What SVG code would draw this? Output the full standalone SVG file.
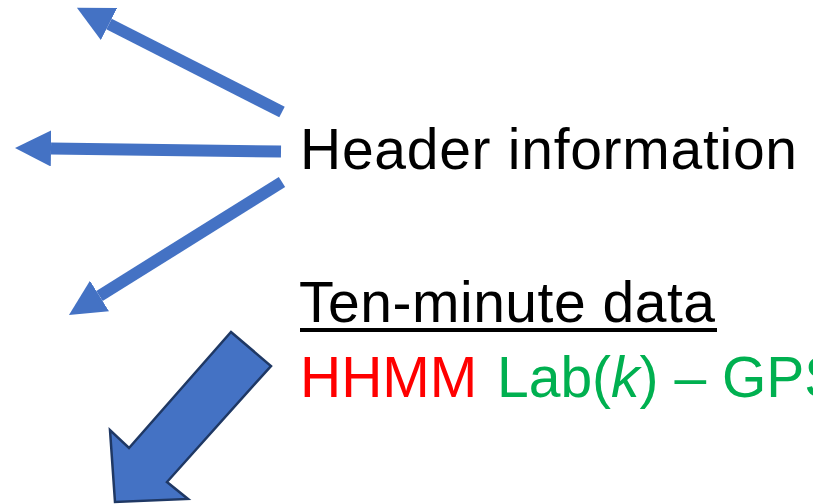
<svg xmlns="http://www.w3.org/2000/svg" width="813" height="504" viewBox="0 0 813 504">
  <style>
    .conn { stroke: #4472C4; stroke-width: 12; fill: none; }
    .lbl { font-family: "Liberation Sans", Arial, sans-serif; font-size: 57px; }
    .big { fill: #4472C4; stroke: #1F3864; stroke-width: 2.5; stroke-linejoin: miter; }
  </style>
  <defs>
    <marker id="head" markerUnits="userSpaceOnUse" markerWidth="36" markerHeight="36" refX="0" refY="18" orient="auto" viewBox="0 0 36 36">
      <path d="M0,0 L36,18 L0,36 Z" fill="#4472C4"/>
    </marker>
  </defs>
  <rect width="813" height="504" fill="#FFFFFF"/>
  <g id="connectors">
    <line class="conn" x1="282" y1="112" x2="109" y2="24" marker-end="url(#head)"/>
    <line class="conn" x1="281" y1="151.5" x2="51" y2="148.5" marker-end="url(#head)"/>
    <line class="conn" x1="282" y1="182" x2="99.5" y2="296" marker-end="url(#head)"/>
  </g>
  <g id="big-arrow">
    <polygon class="big" points="231,332 271,366 167,482 188,499 115,502 110,430 129,448"/>
  </g>
  <g id="header">
    <text class="lbl" x="300" y="169" fill="#000000" textLength="497" lengthAdjust="spacing">Header information</text>
  </g>
  <g id="ten-minute">
    <text class="lbl" x="299" y="322" fill="#000000" textLength="416" lengthAdjust="spacing">Ten-minute data</text>
    <rect x="300" y="328" width="417" height="4" fill="#000000"/>
  </g>
  <g id="record">
    <text class="lbl" x="300" y="397"><tspan fill="#FF0000">HHMM</tspan><tspan fill="#00B050" x="497">Lab(<tspan font-style="italic">k</tspan>) – GPS</tspan></text>
  </g>
</svg>
